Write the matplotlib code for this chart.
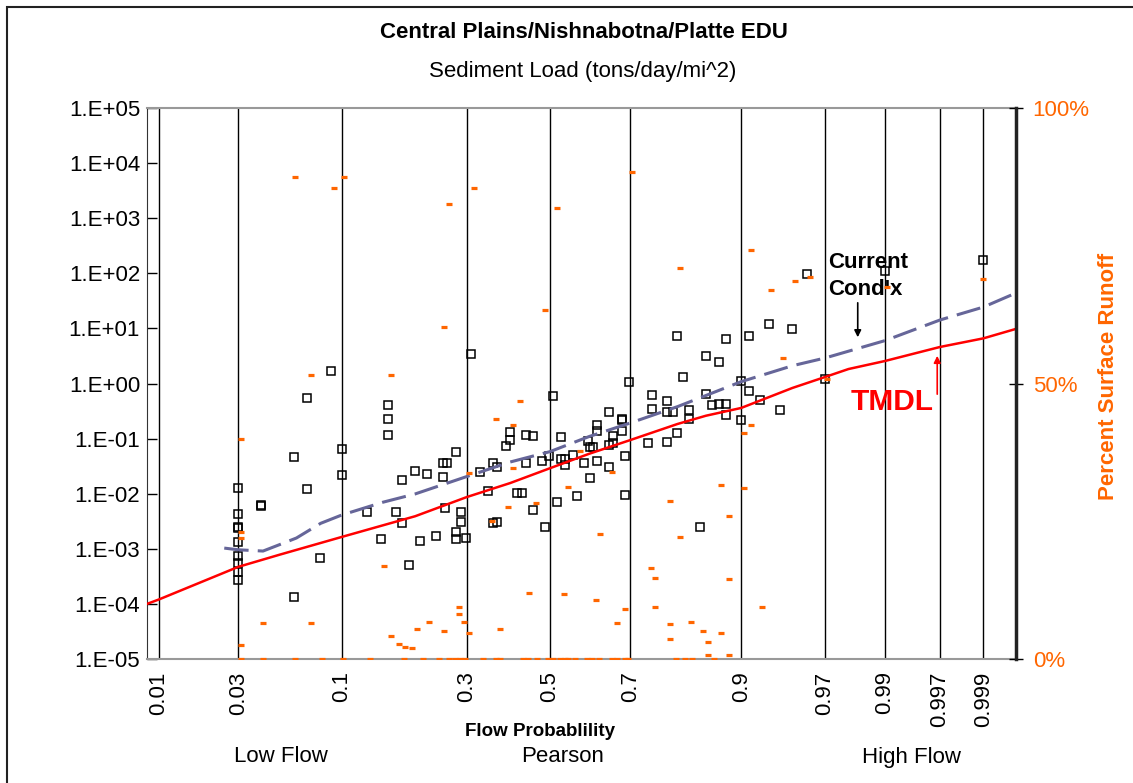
import numpy as np
import matplotlib
matplotlib.use("Agg")
import matplotlib.pyplot as plt
from matplotlib.ticker import FixedLocator, NullLocator, FuncFormatter
from matplotlib.patches import Rectangle
from statistics import NormalDist

plt.rcParams['font.family'] = ['Liberation Sans', 'DejaVu Sans']

# sediment load samples (flow probability, tons/day/mi^2)
load_prob = [0.03, 0.040, 0.040, 0.03, 0.03, 0.03, 0.03, 0.03, 0.03, 0.03, 0.03,
             0.059, 0.059, 0.089, 0.069, 0.069, 0.1, 0.1, 0.079, 0.158, 0.158, 0.158,
             0.129, 0.147, 0.169, 0.178, 0.178, 0.199, 0.22, 0.19, 0.209, 0.238,
             0.251, 0.258, 0.250, 0.255, 0.309, 0.509, 0.40, 0.40, 0.39, 0.439,
             0.458, 0.528, 0.596, 0.603, 0.278, 0.328, 0.358, 0.368, 0.439, 0.479,
             0.498, 0.528, 0.539, 0.539, 0.558, 0.587, 0.603, 0.348, 0.417, 0.428,
             0.287, 0.287, 0.278, 0.278, 0.299, 0.358, 0.368, 0.458, 0.517, 0.568,
             0.487, 0.799, 0.880, 0.850, 0.8695, 0.81, 0.697, 0.749, 0.850, 0.779,
             0.749, 0.779, 0.791, 0.821, 0.821, 0.859, 0.8695, 0.880, 0.880, 0.649,
             0.680, 0.680, 0.680, 0.621, 0.621, 0.611, 0.659, 0.659, 0.649, 0.621,
             0.649, 0.687, 0.740, 0.779, 0.799, 0.687, 0.840, 0.960, 0.930, 0.9497,
             0.909, 0.9, 0.909, 0.921, 0.940, 0.9, 0.97, 0.99, 0.999]
load_value = [1.25e-2, 6.2e-3, 6.0e-3, 4.2e-3, 2.5e-3, 2.4e-3, 1.35e-3, 7.4e-4, 5.5e-4, 3.8e-4, 2.7e-4,
              4.6e-2, 1.35e-4, 1.7, 0.54, 1.2e-2, 6.5e-2, 2.2e-2, 6.9e-4, 0.40, 0.23, 0.116,
              4.7e-3, 1.5e-3, 4.7e-3, 1.8e-2, 2.9e-3, 2.6e-2, 2.3e-2, 5.1e-4, 1.4e-3, 1.7e-3,
              3.6e-2, 3.6e-2, 2.0e-2, 5.4e-3, 3.5, 0.60, 0.133, 9.4e-2, 7.3e-2, 0.118,
              0.111, 0.105, 9.2e-2, 7.1e-2, 5.6e-2, 2.5e-2, 3.6e-2, 3.1e-2, 3.6e-2, 4.0e-2,
              4.8e-2, 4.2e-2, 4.2e-2, 3.3e-2, 5.0e-2, 3.6e-2, 1.9e-2, 1.12e-2, 1.04e-2, 1.04e-2,
              4.7e-3, 3.1e-3, 2.0e-3, 1.5e-3, 1.6e-3, 2.9e-3, 3.1e-3, 5.1e-3, 7.0e-3, 9.2e-3,
              2.5e-3, 7.4, 6.4, 3.1, 2.5, 1.33, 1.05, 0.61, 0.64, 0.48,
              0.35, 0.31, 0.31, 0.33, 0.23, 0.40, 0.42, 0.42, 0.27, 0.30,
              0.23, 0.22, 0.14, 0.18, 0.14, 6.9e-2, 0.11, 8.2e-2, 7.7e-2, 4.0e-2,
              3.1e-2, 4.8e-2, 8.2e-2, 8.7e-2, 0.125, 9.4e-3, 2.5e-3, 97, 11.9, 9.8,
              7.4, 1.12, 0.73, 0.51, 0.33, 0.22, 1.19, 112, 171]

# percent surface runoff samples
runoff_prob = [0.060, 0.031, 0.031, 0.031, 0.031, 0.031, 0.041, 0.041, 0.060, 0.102,
               0.092, 0.252, 0.072, 0.162, 0.152, 0.072, 0.162, 0.173, 0.183, 0.195,
               0.204, 0.225, 0.252, 0.0815, 0.1017, 0.1331, 0.182, 0.2145, 0.244,
               0.315, 0.263, 0.517, 0.487, 0.425, 0.365, 0.407, 0.407, 0.305, 0.577,
               0.546, 0.465, 0.395, 0.356, 0.447, 0.536, 0.284, 0.284, 0.294, 0.305,
               0.375, 0.263, 0.275, 0.285, 0.296, 0.335, 0.365, 0.375, 0.432, 0.445,
               0.466, 0.496, 0.508, 0.526, 0.539, 0.547, 0.564, 0.594,
               0.704, 0.805, 0.656, 0.873, 0.785, 0.884, 0.627, 0.805, 0.746, 0.754,
               0.884, 0.617, 0.688, 0.754, 0.668, 0.785, 0.825, 0.845, 0.873, 0.785,
               0.854, 0.854, 0.863, 0.884, 0.607, 0.625, 0.656, 0.668, 0.688, 0.694,
               0.797, 0.814, 0.826, 0.912, 0.952, 0.962, 0.9325, 0.943, 0.912, 0.904,
               0.904, 0.923, 0.971, 0.9905, 0.999]
runoff_pct = [87.5, 39.9, 23.1, 22.0, 2.5, 0, 6.5, 0, 0, 87.5,
              85.4, 60.2, 51.5, 51.5, 16.8, 6.5, 4.2, 2.8, 2.2, 2.0,
              5.4, 6.8, 5.0, 0, 0, 0, 0, 0, 0,
              85.4, 82.6, 81.8, 63.3, 46.8, 43.6, 42.5, 34.6, 33.7, 37.8,
              31.2, 28.4, 27.5, 25.1, 12.0, 11.8, 9.4, 8.1, 6.8, 4.7,
              5.4, 0, 0, 0, 0, 0, 0, 0, 0, 0,
              0, 0, 0, 0, 0, 0, 0, 0,
              88.3, 71.0, 33.9, 31.5, 28.6, 26.0, 22.6, 22.1, 16.6, 14.7,
              14.5, 10.7, 9.1, 9.4, 6.5, 6.3, 6.8, 5.0, 4.7, 3.6,
              3.1, 0.7, 0, 0.7, 0, 0, 0, 0, 0, 0,
              0, 0, 0, 74.2, 68.6, 69.4, 67.0, 54.6, 42.5, 41.0,
              31.0, 9.4, 50.9, 67.6, 68.9]

# duration curves
tmdl_prob = [0.0084, 0.01, 0.03, 0.05, 0.1, 0.2, 0.3, 0.4, 0.5, 0.6, 0.7, 0.8, 0.85,
             0.9, 0.95, 0.97, 0.98, 0.99, 0.997, 0.999, 0.9996]
tmdl_load = [1.0e-4, 1.2e-4, 4.7e-4, 7.8e-4, 1.64e-3, 3.9e-3, 8.7e-3, 1.56e-2, 2.9e-2,
             5.3e-2, 9.4e-2, 0.184, 0.26, 0.36, 0.83, 1.31, 1.83, 2.56, 4.6, 6.6, 9.8]
current_prob = [0.025, 0.03, 0.041, 0.051, 0.061, 0.08, 0.1, 0.15, 0.2, 0.3, 0.4, 0.5,
                0.6, 0.7, 0.8, 0.9, 0.95, 0.97, 0.99, 0.997, 0.9977, 0.999, 0.9996]
current_load = [1.03e-3, 9.6e-4, 9.1e-4, 1.22e-3, 1.57e-3, 2.9e-3, 4.1e-3, 7.0e-3, 9.9e-3,
                2.05e-2, 3.76e-2, 5.8e-2, 0.109, 0.192, 0.38, 1.08, 2.1, 2.9, 6.0, 14.2,
                16.3, 24.4, 43.9]

flow_ticks = [0.01, 0.03, 0.1, 0.3, 0.5, 0.7, 0.9, 0.97, 0.99, 0.997, 0.999]
flow_labels = ['0.01', '0.03', '0.1', '0.3', '0.5', '0.7', '0.9', '0.97', '0.99', '0.997', '0.999']

ORANGE = '#FF6600'

# Pearson type III probability axis (frequency factor, small negative skew)
SKEW = -0.2
_k = SKEW / 6.0
_nd = NormalDist()


def prob_to_k(p):
    p = np.asarray(p, dtype=float)
    flat = np.clip(np.nan_to_num(p.ravel(), nan=0.5), 1e-9, 1 - 1e-9)
    z = np.array([_nd.inv_cdf(v) for v in flat]).reshape(p.shape)
    return (z + (z**2 - 1) * _k + (z**3 - 6 * z) * _k**2 / 3
            - (z**2 - 1) * _k**3 + z * _k**4 + _k**5 / 3)


_pgrid = np.concatenate([np.logspace(-9, -1, 400),
                         np.linspace(0.1, 0.9, 400)[1:-1],
                         1 - np.logspace(-1, -9, 400)])
_kgrid = prob_to_k(_pgrid)


def k_to_prob(k):
    return np.interp(np.asarray(k, dtype=float), _kgrid, _pgrid)


fig = plt.figure(figsize=(11.33, 7.83), dpi=100)
ax = fig.add_axes([147 / 1133, 1 - 659 / 783, (1016 - 147) / 1133, (659 - 108) / 783])
ax.set_xscale('function', functions=(prob_to_k, k_to_prob))
ax.set_yscale('log')
ax.set_xlim(0.0084, 0.9996)
ax.set_ylim(1e-5, 1e5)

ax.plot(load_prob, load_value, ls='none', marker='s', ms=6.3, mfc='none',
        mec='black', mew=1.1, zorder=3)
ax.plot(tmdl_prob, tmdl_load, color='#FF0000', lw=1.8, zorder=4)
ax.plot(current_prob, current_load, color='#666699', lw=2.2, dashes=(8, 3), zorder=4)

ax2 = ax.twinx()
ax2.set_ylim(0, 100)
ax2.plot(runoff_prob, runoff_pct, ls='none', marker='_', ms=5, mew=2.3, color=ORANGE)
ax2.set_yticks([0, 50, 100])
ax2.yaxis.set_major_formatter(FuncFormatter(lambda v, pos: f"{v:.0f}%"))
ax2.tick_params(axis='y', direction='inout', length=10, width=1, color='black',
                labelcolor=ORANGE, labelsize=16, pad=7)
for s in ['top', 'bottom', 'left']:
    ax2.spines[s].set_visible(False)
ax2.spines['right'].set_color('#222222')
ax2.spines['right'].set_linewidth(2.5)

# ticks (after twinx so the shared x axis keeps them)
ax.xaxis.set_major_locator(FixedLocator(flow_ticks))
ax.xaxis.set_minor_locator(NullLocator())
ax.set_xticklabels(flow_labels)
ax.set_xlim(0.0084, 0.9996)
ax.yaxis.set_major_locator(FixedLocator(10.0 ** np.arange(-5, 6)))
ax.yaxis.set_minor_locator(NullLocator())
ax.yaxis.set_major_formatter(FuncFormatter(lambda v, pos: f"1.E{int(round(np.log10(v))):+03d}"))
ax.tick_params(axis='x', length=0, pad=9, labelsize=16, labelrotation=90)
ax.tick_params(axis='y', direction='in', length=7, width=1, labelsize=16, pad=5)
ax.grid(axis='x', color='black', lw=1.0)
ax.set_axisbelow(True)

for s in ['top', 'bottom']:
    ax.spines[s].set_color('#999999')
    ax.spines[s].set_linewidth(1.5)
ax.spines['left'].set_color('#333333')
ax.spines['right'].set_visible(False)

# annotations
ax.text(0.9717, 244, "Current\nCond'x", fontsize=16, fontweight='bold',
        ha='left', va='top', linespacing=1.4, zorder=6)
ax.annotate('', xy=(0.9831, 6.15), xytext=(0.9831, 32.7),
            arrowprops=dict(arrowstyle='-|>', color='black', lw=1.2, mutation_scale=10))
ax.text(0.9806, 0.46, 'TMDL', fontsize=21.5, fontweight='bold', color='#FF0000',
        ha='left', va='center', zorder=6)
ax.annotate('', xy=(0.9968, 3.57), xytext=(0.9968, 0.57),
            arrowprops=dict(arrowstyle='-|>', color='#FF0000', lw=1.2, mutation_scale=10))

fig.text(584 / 1133, 1 - 32 / 783, 'Central Plains/Nishnabotna/Platte EDU',
         fontsize=16, fontweight='bold', ha='center', va='center')
fig.text(583 / 1133, 1 - 72 / 783, 'Sediment Load (tons/day/mi^2)',
         fontsize=16, ha='center', va='center')
fig.text(540 / 1133, 1 - 731 / 783, 'Flow Probablility', fontsize=13.5,
         fontweight='bold', ha='center', va='center')
fig.text(281 / 1133, 1 - 757 / 783, 'Low Flow', fontsize=16, ha='center', va='center')
fig.text(563 / 1133, 1 - 757 / 783, 'Pearson', fontsize=16, ha='center', va='center')
fig.text(912 / 1133, 1 - 757 / 783, 'High Flow', fontsize=16, ha='center', va='center')
fig.text(1108 / 1133, 1 - 376 / 783, 'Percent Surface Runoff', fontsize=16,
         fontweight='bold', color=ORANGE, rotation=90, ha='center', va='center')

# outer chart border
fig.patches.append(Rectangle((7 / 1133, -0.05), 1.1, 1.05 - 7 / 783, transform=fig.transFigure,
                             fill=False, ec='#222222', lw=1.5))

fig.savefig('out.png', dpi=100)
